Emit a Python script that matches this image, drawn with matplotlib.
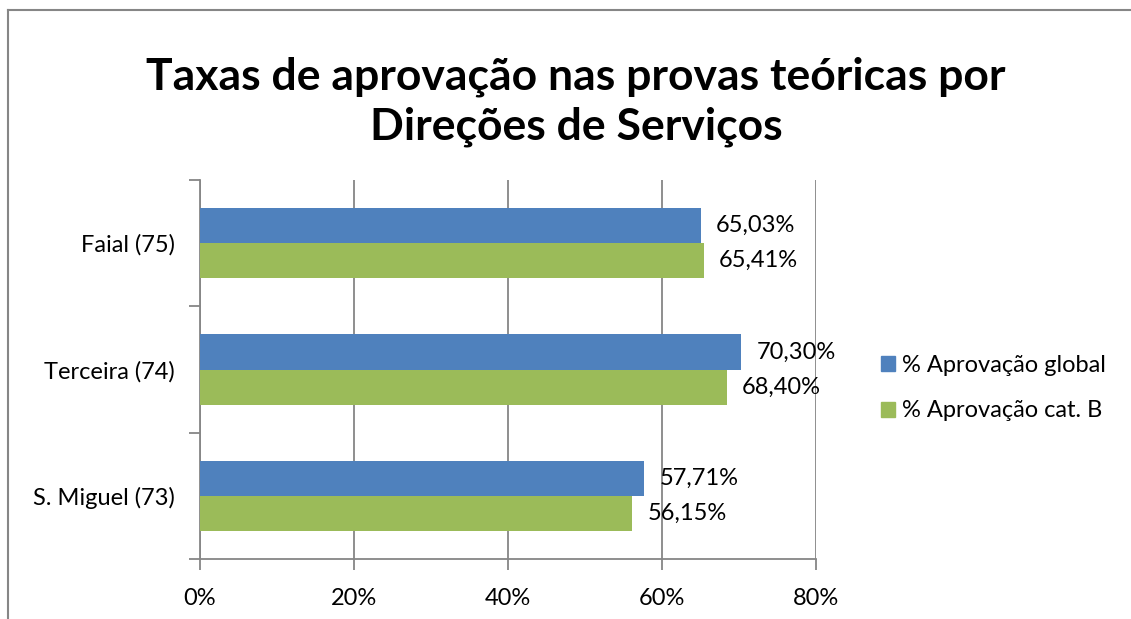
import matplotlib
matplotlib.use("Agg")
import matplotlib.pyplot as plt
import numpy as np
from matplotlib.patches import Rectangle
from matplotlib.lines import Line2D

categories = ["S. Miguel (73)", "Terceira (74)", "Faial (75)"]
global_pct = [57.71, 70.30, 65.03]
catb_pct = [56.15, 68.40, 65.41]
series_names = ["% Aprovação global", "% Aprovação cat. B"]
xticks = [0, 20, 40, 60, 80]
xtick_labels = ["0%", "20%", "40%", "60%", "80%"]
title = "Taxas de aprovação nas provas teóricas por\nDireções de Serviços"

BLUE = "#4F81BD"
GREEN = "#9BBB59"
GRID = "#868686"
FONT = "Lato"
FS = 17

plt.rcParams["font.family"] = [FONT, "DejaVu Sans"]

W, H = 1131, 619
fig = plt.figure(figsize=(W / 100, H / 100), dpi=100)

# outer chart border (cropped on the right and bottom)
fig.add_artist(Line2D([8 / W, 8 / W], [0, 1 - 9.5 / H], color="#868686", lw=1.5,
                      transform=fig.transFigure))
fig.add_artist(Line2D([8 / W, 1.0], [1 - 9.5 / H, 1 - 9.5 / H], color="#868686", lw=1.5,
                      transform=fig.transFigure))

ax = fig.add_axes([200 / W, 1 - 559 / H, 616 / W, 379 / H])

y = np.arange(len(categories))
h = 0.278
b1 = ax.barh(y + h / 2, global_pct, height=h, color=BLUE, label=series_names[0], zorder=3)
b2 = ax.barh(y - h / 2, catb_pct, height=h, color=GREEN, label=series_names[1], zorder=3)

def fmt(v):
    return f"{v:.2f}".replace(".", ",") + "%"

for bars, vals in ((b1, global_pct), (b2, catb_pct)):
    for rect, v in zip(bars, vals):
        ax.annotate(fmt(v), (rect.get_width(), rect.get_y() + rect.get_height() / 2),
                    xytext=(11, 0), textcoords="offset points", va="center", ha="left",
                    fontsize=FS, color="black")

ax.set_xlim(0, 80)
ax.set_ylim(-0.5, 2.5)
ax.set_xticks(xticks)
ax.set_xticklabels(xtick_labels, fontsize=FS)
ax.set_yticks([-0.5, 0.5, 1.5, 2.5])
ax.set_yticklabels([])
ax.set_yticks(y, minor=True)
ax.set_yticklabels(categories, minor=True, fontsize=FS)
ax.tick_params(axis="y", which="minor", length=0, pad=18)
ax.tick_params(axis="y", which="major", length=8, color=GRID, width=1.3)
ax.tick_params(axis="x", which="major", length=8, color=GRID, width=1.3, pad=13)

ax.grid(axis="x", color=GRID, lw=1.3, zorder=0)
for s in ["top", "right"]:
    ax.spines[s].set_visible(False)
for s in ["left", "bottom"]:
    ax.spines[s].set_color(GRID)
    ax.spines[s].set_linewidth(1.3)

fig.text(576 / W, 1 - 102 / H, title, ha="center", va="center", fontsize=32,
         fontweight="bold", linespacing=1.3)

handles = [Rectangle((0, 0), 1, 1, color=BLUE), Rectangle((0, 0), 1, 1, color=GREEN)]
fig.legend(handles, series_names, loc="center left", bbox_to_anchor=(860 / W, 1 - 388 / H),
           frameon=False, fontsize=FS, handlelength=0.6, handleheight=0.6,
           handletextpad=0.3, labelspacing=1.05)

fig.savefig("out.png", dpi=100)
